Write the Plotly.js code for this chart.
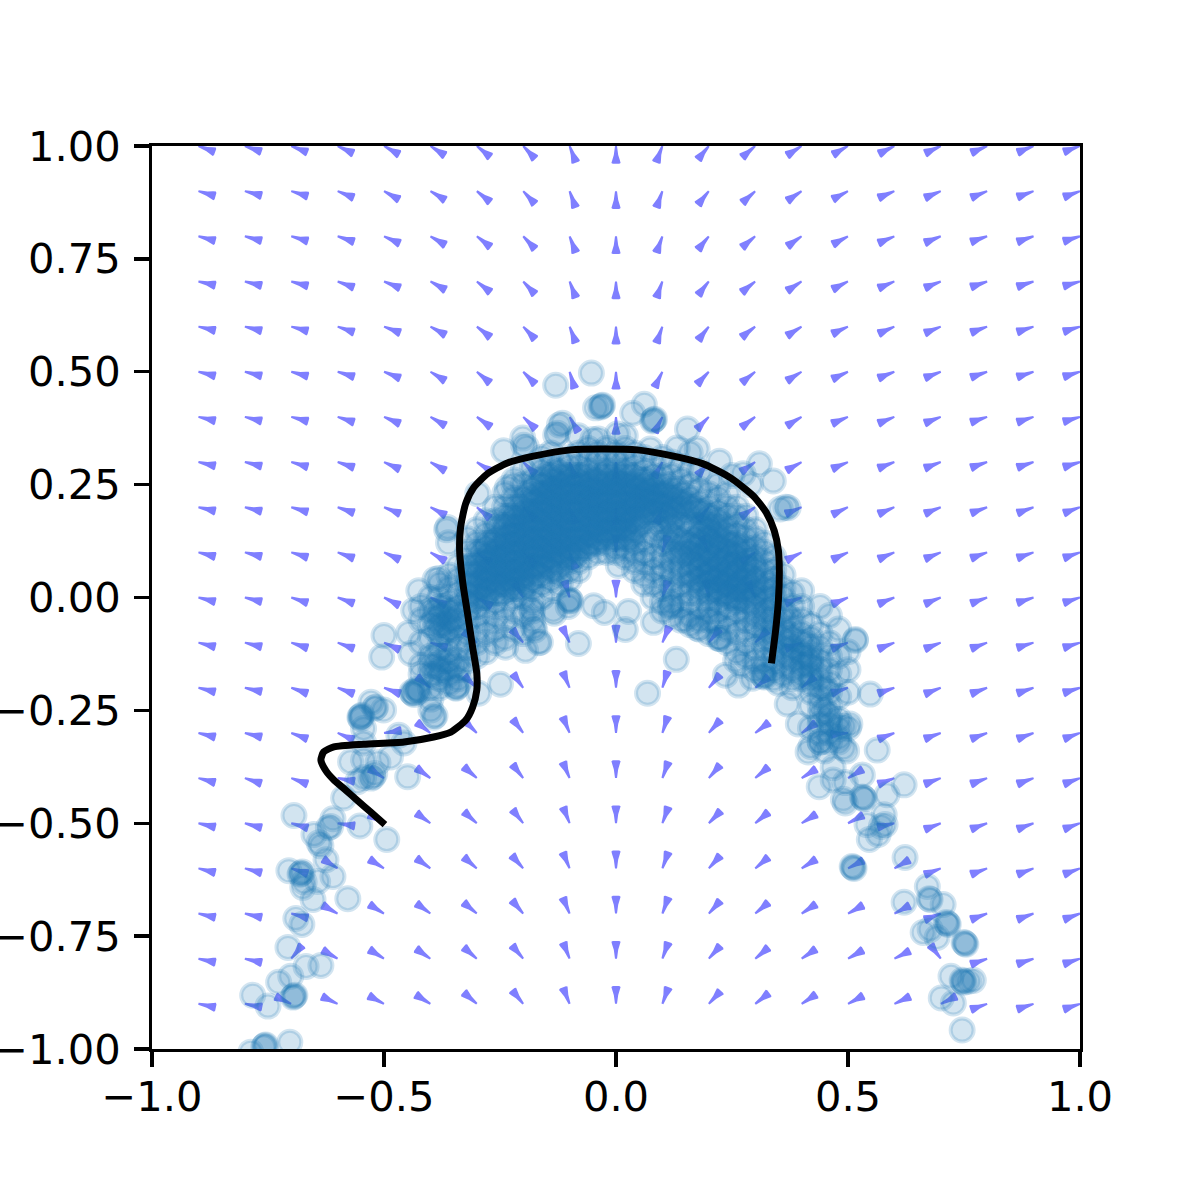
<!DOCTYPE html>
<html>
<head>
<meta charset="utf-8">
<script src="https://cdn.plot.ly/plotly-3.0.1.min.js"></script>
<style>html,body{margin:0;padding:0;background:#fff;overflow:hidden}</style>
</head>
<body>
<div id="chart" style="width:1200px;height:1200px"></div>
<script>
// quiver grid, direction of each arrow in degrees (tail at the grid point)
const gridX = [-.9,-.8,-.7,-.6,-.5,-.4,-.3,-.2,-.1,0,.1,.2,.3,.4,.5,.6,.7,.8,.9,1];
const gridY = [1,.9,.8,.7,.6,.5,.4,.3,.2,.1,0,-.1,-.2,-.3,-.4,-.5,-.6,-.7,-.8,-.9];
const arrowAngles = [
  [-20,-19,-21,-25,-29,-33,-39,-47,-69,-90,-111,-129,-139,-147,-150,-153,-155,-157,-158,-160],
  [-16,-15,-17,-22,-29,-31,-39,-47,-70,-90,-110,-129,-138,-146,-152,-157,-157,-158,-160,-160],
  [-15,-15,-16,-18,-24,-30,-38,-47,-69,-90,-110,-129,-140,-145,-152,-157,-158,-161,-161,-163],
  [-13,-14,-15,-20,-22,-29,-38,-47,-69,-90,-110,-128,-141,-147,-153,-157,-158,-161,-162,-164],
  [-13,-14,-15,-19,-21,-29,-38,-47,-69,-90,-110,-128,-142,-148,-155,-156,-158,-160,-162,-163],
  [-14,-14,-15,-17,-22,-31,-40,-46,-73,-90,-117,-133,-141,-148,-155,-158,-159,-161,-162,-163],
  [-13,-14,-15,-18,-23,-30,-36,-44,-60,-90,-117,-134,-143,-149,-157,-158,-159,-162,-162,-164],
  [-13,-14,-16,-18,-24,-30,-33,-45,-70,-90,-119,-130,-145,-151,-157,-159,-159,-161,-162,-163],
  [-13,-14,-16,-19,-22,-28,-40,-45,-70,-90,-110,-130,-146,-157,-155,-157,-158,-160,-160,-160],
  [-14,-14,-17,-20,-25,-30,-35,-45,-70,90,73,115,-146,-153,-155,-157,-158,-160,-161,-161],
  [-14,-14,-18,-20,-27,-27,-30,120,107,90,72,100,115,-160,-157,-158,-158,-160,-162,-162],
  [-14,-14,-18,-20,-24,-17,140,130,115,90,67,52,45,-160,-160,-159,-159,-160,-163,-163],
  [-14,-13,-19,-20,-20,141,137,126,113,90,73,49,39,40,-162,-161,-159,-160,-162,-163],
  [-14,-14,-20,-23,8,142,135,127,113,90,72,48,37,35,-175,-159,-160,-160,-160,-160],
  [-15,-18,-20,-11,147,144,139,128,113,90,70,49,40,32,31,-159,-160,-160,-160,-160],
  [-13,-15,-16,-9,150,144,138,128,112,90,70,46,40,32,28,-167,-159,-160,-160,-160],
  [-14,-15,-18,147,148,144,139,131,113,90,70,48,40,32,28,30,-159,-160,-160,-160],
  [-13,-13,-15,151,148,144,140,130,113,90,70,48,40,33,29,28,-159,-160,-160,-160],
  [-12,-13,51,150,148,145,139,130,112,90,70,48,40,34,30,27,127,-161,-162,-162],
  [-12,-11,155,155,152,148,139,129,112,90,70,47,38,33,28,25,26,-161,-162,-162]
];

// black trajectory
const pathX = [-.498,-.529,-.557,-.582,-.608,-.625,-.636,-.630,-.608,-.544,-.457,-.393,-.356,-.324,-.309,-.300,-.300,-.309,-.320,-.330,-.337,-.335,-.324,-.307,-.277,-.234,-.178,-.098,-.033,.046,.124,.188,.247,.296,.324,.341,.350,.352,.350,.344,.335];
const pathY = [-.503,-.475,-.450,-.427,-.404,-.384,-.360,-.342,-.331,-.325,-.320,-.309,-.298,-.272,-.243,-.205,-.168,-.110,-.035,.031,.104,.155,.208,.243,.274,.298,.313,.327,.329,.327,.313,.296,.265,.225,.188,.148,.104,.060,-.007,-.073,-.146];

// samples above the arch and inside it
const crownPoints = [[-.13,.47],[-.053,.497],[-.044,.42],[-.031,.424],[-.033,.422],[-.029,.426],[.036,.408],[.061,.428],[.081,.393],[.079,.391],[.083,.395],[.154,.373],[-.242,.325],[-.201,.353],[-.193,.333],[-.199,.337],[-.126,.364],[-.122,.382],[-.115,.386],[-.13,.36],[-.081,.358],[-.038,.351],[-.05,.35],[.003,.362],[.02,.358],[.074,.329],[.132,.331],[.175,.329],[.16,.32],[.223,.302],[.274,.274],[.309,.296],[.339,.258],[.25,.27],[.354,.196],[.371,.199],[.366,.2],[.29,.25],
  [-.081,-.102],[-.048,-.018],[-.025,-.033],[.027,-.031],[.081,-.055],[.02,-.071],[.13,-.137],[.068,-.212],[-.249,-.192],[.117,-.02],[.118,-.018],[-.1,-.005],[-.098,-.007],[-.103,-.02],[.005,.071],[-.195,-.117],[-.238,-.11],[-.167,-.1],[-.178,-.066],[-.184,-.024],[-.135,-.028],[.15,-.05],[.175,-.068],[.223,-.09],[.2,-.02],[.21,-.05],[-.163,-.099],[-.175,-.072],[-.18,-.03],[-.133,-.035],[-.102,-.008]];

const leftArmPoints = [[-.694,-.483],[-.61,-.49],[-.615,-.507],[-.62,-.51],[-.552,-.506],[-.494,-.536],[-.587,-.444],[-.651,-.525],[-.64,-.543],[-.636,-.55],[-.625,-.581],[-.705,-.605],[-.679,-.611],[-.676,-.608],[-.681,-.613],[-.61,-.618],[-.643,-.629],[-.675,-.642],[-.672,-.63],[-.653,-.669],[-.578,-.667],[-.69,-.711],[-.677,-.724],[-.707,-.775],[-.668,-.817],[-.636,-.815],[-.727,-.852],[-.701,-.839],[-.694,-.883],[-.692,-.881],[-.696,-.885],[-.783,-.881],[-.75,-.905],[-.703,-.985],[-.757,-.993],[-.755,-.991],[-.759,-.995],[-.787,-1.007],
  [-.55,-.263],[-.552,-.265],[-.548,-.261],[-.55,-.268],[-.518,-.243],[-.52,-.245],[-.528,-.232],[-.501,-.249],[-.544,-.29],[-.468,-.305],[-.457,-.322],[-.544,-.322],[-.572,-.364],[-.486,-.353],[-.544,-.36],[-.513,-.366],[-.524,-.397],[-.52,-.39],[-.528,-.4],[-.544,-.399],[-.557,-.408],[-.449,-.397],[-.505,-.132],[-.5,-.084],[-.447,-.079],[-.442,-.124],[-.425,.015],[-.436,-.029],[-.382,.042],[-.39,.04],[-.363,.155],[-.365,.15],[-.361,.121],[-.298,.23],[-.427,-.205],[-.43,-.203],[-.425,-.208],[-.399,-.249],[-.393,-.265],[-.39,-.262],[-.345,-.201],[-.345,-.199],[-.342,-.196],[-.296,-.212],[-.438,-.212],[-.44,-.21],[-.435,-.215],[-.399,-.225],[-.234,.243],[-.22,.25]];

const rightArmPoints = [[.225,-.091],[.236,-.172],[.264,-.194],[.258,-.139],[.294,-.179],[.318,-.174],[.32,-.176],[.316,-.172],[.35,-.19],[.369,-.236],[.393,-.28],[.419,-.289],[.414,-.342],[.44,-.32],[.49,-.333],[.497,-.34],[.548,-.214],[.563,-.338],[.516,-.095],[.501,-.289],[.49,-.285],[.504,-.28],[.468,-.377],[.438,-.419],[.468,-.404],[.494,-.41],[.531,-.393],[.533,-.444],[.531,-.442],[.535,-.446],[.494,-.455],[.49,-.447],[.584,-.437],[.621,-.415],[.578,-.481],[.58,-.503],[.572,-.507],[.541,-.503],[.546,-.536],[.565,-.525],[.511,-.598],[.509,-.596],[.513,-.6],[.623,-.576],[.621,-.675],[.671,-.64],[.677,-.669],[.675,-.667],[.705,-.68],[.662,-.742],[.677,-.735],[.714,-.722],[.712,-.72],[.716,-.724],[.692,-.753],[.752,-.766],[.75,-.764],[.754,-.768],[.722,-.839],[.748,-.85],[.746,-.848],[.75,-.852],[.76,-.85],[.77,-.848],[.701,-.887],[.727,-.898],[.746,-.958],
  [.4,.015],[.44,-.02],[.46,-.04],[.48,-.07],[.516,-.093],[.5,-.12],[.5,-.16],[.5,-.21],[.3,-.16],[.34,-.18],[.38,-.2],[.42,-.19],[.27,-.15],[.48,-.32],[.45,-.34],[.42,-.33]];

// dense band of the arch, read column by column: [x, [y, y, ...]]
const bandColumns = [
  [-.42,[-.02,-.05,-.1,-.15,-.17]],
  [-.40,[0,-.03,-.06,-.09,-.13,-.15,-.17,-.2]],
  [-.38,[.03,0,-.02,-.04,-.06,-.08,-.11,-.14,-.16,-.18,-.2]],
  [-.36,[.05,.02,-.01,-.03,-.05,-.07,-.09,-.12,-.14,-.17,-.19]],
  [-.34,[.07,.04,.01,-.02,-.04,-.06,-.09,-.11,-.14,-.16,-.18]],
  [-.32,[.13,.1,.07,.05,.03,.01,-.01,-.03,-.05,-.08,-.11,-.14,-.16]],
  [-.30,[.15,.12,.1,.08,.07,.05,.03,.02,0,-.02,-.04,-.07,-.1,-.13]],
  [-.28,[.17,.14,.12,.11,.09,.08,.06,.05,.03,.01,0,-.02,-.05,-.08,-.12]],
  [-.26,[.2,.17,.15,.13,.12,.1,.09,.07,.06,.04,.03,.01,-.01,-.04,-.07,-.1]],
  [-.24,[.23,.2,.18,.16,.15,.13,.12,.1,.09,.07,.06,.04,.03,.01,-.02,-.05,-.09]],
  [-.22,[.26,.22,.2,.18,.17,.15,.14,.12,.11,.09,.08,.06,.05,.03,.02,0,-.03,-.07]],
  [-.20,[.28,.25,.22,.2,.19,.17,.16,.14,.13,.11,.1,.08,.07,.05,.04,.02,0,-.04,-.08]],
  [-.18,[.29,.26,.24,.22,.21,.19,.18,.16,.15,.13,.12,.1,.09,.07,.06,.04,.02,-.01,-.05]],
  [-.16,[.31,.28,.26,.25,.23,.22,.2,.19,.17,.16,.14,.13,.11,.1,.08,.07,.05,.03,0]],
  [-.14,[.32,.29,.27,.26,.24,.23,.21,.2,.18,.17,.15,.14,.12,.11,.09,.08,.06,.04,.02]],
  [-.12,[.3,.28,.27,.25,.24,.22,.21,.19,.18,.16,.15,.13,.12,.1,.09,.07,.05,.03]],
  [-.10,[.31,.29,.27,.26,.24,.23,.21,.2,.19,.17,.16,.14,.13,.11,.1,.08,.06,.04]],
  [-.08,[.32,.29,.27,.26,.25,.23,.22,.2,.19,.17,.16,.14,.13,.11,.1,.08,.06]],
  [-.06,[.33,.3,.28,.27,.25,.24,.22,.21,.2,.18,.17,.15,.14,.12,.11,.09]],
  [-.04,[.32,.3,.28,.26,.25,.23,.22,.21,.19,.18,.16,.15,.13,.12,.1]],
  [-.02,[.33,.3,.28,.27,.25,.24,.22,.21,.19,.18,.17,.15,.14,.12,.1]],
  [0,[.32,.3,.28,.26,.25,.23,.22,.2,.19,.18,.16,.15,.13,.11,.1]],
  [.02,[.33,.3,.28,.27,.25,.24,.22,.21,.19,.18,.16,.15,.13,.11,.09]],
  [.04,[.32,.29,.27,.25,.24,.22,.21,.2,.18,.17,.15,.14,.12,.1,.08,.06]],
  [.06,[.31,.28,.26,.25,.23,.22,.2,.19,.17,.13,.1,.08,.05,.03]],
  [.08,[.3,.27,.25,.24,.22,.21,.19,.18,.14,.09,.06,.03,0]],
  [.10,[.31,.27,.25,.23,.22,.2,.19,.17,.12,.09,.07,.05,.02,-.01,-.03]],
  [.12,[.3,.27,.24,.22,.21,.19,.17,.16,.14,.12,.1,.08,.06,.04,.02,-.01,-.04]],
  [.14,[.29,.26,.23,.21,.2,.16,.13,.11,.09,.07,.05,.03,.01,-.02,-.05]],
  [.16,[.28,.25,.22,.2,.16,.12,.1,.08,.06,.05,.03,.01,-.01,-.04,-.06]],
  [.18,[.28,.24,.21,.19,.16,.14,.12,.11,.09,.07,.06,.04,.02,.01,-.02,-.05,-.07]],
  [.20,[.26,.23,.2,.18,.16,.15,.13,.11,.1,.08,.06,.05,.03,.01,0,-.03,-.05,-.08]],
  [.22,[.25,.22,.19,.17,.15,.13,.11,.1,.08,.07,.05,.04,.02,.01,-.01,-.03,-.06,-.09]],
  [.24,[.23,.2,.18,.15,.14,.12,.1,.09,.07,.06,.04,.03,.01,0,-.02,-.04,-.07,-.1]],
  [.26,[.2,.18,.16,.14,.12,.11,.09,.08,.06,.05,.03,.02,0,-.01,-.03,-.05,-.08,-.12]],
  [.28,[.18,.15,.13,.11,.1,.08,.07,.05,.04,.02,.01,-.01,-.03,-.05,-.07,-.1,-.13]],
  [.30,[.15,.13,.11,.09,.07,.06,.04,.03,.01,0,-.02,-.04,-.06,-.08,-.11,-.14]],
  [.32,[.12,.1,.08,.06,.04,.02,.01,-.01,-.03,-.05,-.07,-.09,-.11,-.14,-.16]],
  [.34,[.09,.06,.04,.02,0,-.02,-.04,-.06,-.08,-.1,-.12,-.14,-.16]],
  [.36,[.05,.02,0,-.03,-.05,-.07,-.09,-.11,-.13,-.15,-.17]],
  [.38,[.01,-.02,-.05,-.07,-.09,-.11,-.12,-.14,-.16,-.18]],
  [.40,[-.02,-.05,-.08,-.1,-.12,-.13,-.15,-.17,-.18]],
  [.42,[-.06,-.09,-.11,-.13,-.14,-.15,-.17,-.18,-.21,-.24]],
  [.44,[-.08,-.11,-.14,-.16,-.18,-.2,-.22,-.24,-.26,-.28,-.3,-.32]],
  [.46,[-.1,-.13,-.16,-.19,-.21,-.24,-.26,-.27,-.28,-.3,-.32]],
  [.48,[-.13,-.17,-.22,-.27,-.29,-.31]]
];

// darkest part of the band, second reading between the columns above
const coreColumns = [
  [-.39,[-.03,-.05,-.07,-.13,-.15,-.17]],
  [-.37,[-.02,-.04,-.06,-.08,-.14,-.16]],
  [-.35,[-.03,-.05,-.07,-.15]],
  [-.31,[.07,.05,.03,.01,-.01]],
  [-.29,[.1,.08,.06,.04,.02,0]],
  [-.27,[.12,.1,.08,.06,.04,.02]],
  [-.25,[.16,.13,.11,.09,.07,.05,.03,.01]],
  [-.23,[.18,.16,.14,.12,.1,.08,.06,.04,.02]],
  [-.21,[.2,.18,.16,.14,.12,.1,.08,.06,.04,.02]],
  [-.19,[.23,.21,.19,.17,.15,.13,.11,.09,.07,.05,.03]],
  [-.17,[.25,.23,.21,.19,.17,.15,.13,.11,.09,.07,.05]],
  [-.15,[.27,.25,.23,.21,.19,.17,.15,.13,.11,.09,.07]],
  [-.13,[.28,.26,.24,.22,.2,.18,.16,.14,.12,.1,.08,.06]],
  [-.11,[.27,.25,.23,.21,.19,.17,.15,.13,.11,.09]],
  [-.09,[.27,.25,.23,.21,.19,.17,.15,.13,.11,.09]],
  [-.07,[.27,.25,.23,.21,.19,.17,.15,.13,.11]],
  [-.05,[.26,.24,.22,.2,.18,.16,.14,.12]],
  [-.03,[.27,.25,.23,.21,.19,.17,.15,.13]],
  [-.01,[.27,.25,.23,.21,.19,.17,.15,.13]],
  [.01,[.27,.25,.23,.21,.19,.17,.15,.13]],
  [.03,[.27,.25,.23,.21,.19,.17,.15,.13]],
  [.05,[.26,.24,.22,.2,.18,.16]],
  [.07,[.26,.24,.23,.21,.19,.12]],
  [.09,[.25,.23,.21,.19,.17,.15]],
  [.11,[.25,.23,.2,.18,.15,.13]],
  [.13,[.24,.22,.2,.18,.13,.1]],
  [.15,[.23,.21,.19,.17,.12,.1]],
  [.17,[.2,.19,.16,.13,.11,.09,.07,.04]],
  [.19,[.19,.17,.15,.13,.1,.08,.05,.03]],
  [.21,[.18,.16,.14,.12,.09,.06,.04,.02]],
  [.23,[.16,.13,.11,.08,.05,.03,.01]],
  [.25,[.12,.1,.07,.05,.02,0]],
  [.27,[.1,.07,.04,.02,0]],
  [.29,[.08,.05,.02,-.01]],
  [.33,[.03,0,-.03,-.05,-.09]],
  [.37,[-.04,-.08,-.1,-.13]],
  [.41,[-.1,-.13,-.15]],
  [.45,[-.2,-.25]]
];

const xTicks = [-1,-.5,0,.5,1];
const yTicks = [-1,-.75,-.5,-.25,0,.25,.5,.75,1];

// plot area in px, used to turn the wedge outline into data units
const plotW = 928, plotH = 903;
const wedgeLen = 17.8;

function wedgeTraces() {
  // outline along the arrow: [fraction of length, half width in px]
  const outline = [[0,1],[.5,2.2],[.8,3.9],[.95,4.6],[1,3.2],[1,-3.2],[.95,-4.6],[.8,-3.9],[.5,-2.2],[0,-1]];
  const xs = [], ys = [];
  gridY.forEach((gy, r) => {
    gridX.forEach((gx, c) => {
      const a = arrowAngles[r][c] * Math.PI / 180;
      outline.forEach(([f, w]) => {
        const dx = f * wedgeLen * Math.cos(a) - w * Math.sin(a);
        const dy = f * wedgeLen * Math.sin(a) + w * Math.cos(a);
        xs.push(gx + dx * 2 / plotW);
        ys.push(gy + dy * 2 / plotH);
      });
      xs.push(null);
      ys.push(null);
    });
  });
  return {
    type: "scatter", mode: "lines", x: xs, y: ys, fill: "toself",
    fillcolor: "rgba(0,0,255,0.5)", line: { width: 0 }, hoverinfo: "skip",
  };
}

const samples = [...crownPoints, ...leftArmPoints, ...rightArmPoints];
[...bandColumns, ...coreColumns].forEach(([x, col]) => col.forEach((y) => samples.push([x, y])));

const traces = [
  wedgeTraces(),
  {
    type: "scatter", mode: "markers",
    x: samples.map((p) => p[0]),
    y: samples.map((p) => p[1]),
    marker: {
      size: 23, color: "rgba(31,119,180,0.2)",
      line: { width: 4, color: "rgba(31,119,180,0.2)" },
    },
  },
  {
    type: "scatter", mode: "lines", x: pathX, y: pathY,
    line: { color: "#000", width: 7, shape: "spline", smoothing: .6 },
  },
];

const axisBase = {
  range: [-1, 1], tickmode: "array", showgrid: false, zeroline: false,
  showline: true, mirror: true, linecolor: "#000", linewidth: 3.3,
  ticks: "outside", ticklen: 14.6, tickwidth: 3.3, tickcolor: "#000",
  tickfont: { family: "DejaVu Sans", size: 41.67, color: "#000" },
};

const layout = {
  width: 1200, height: 1200, showlegend: false,
  margin: { l: 152, r: 120, t: 146, b: 151, pad: 0 },
  paper_bgcolor: "#fff", plot_bgcolor: "#fff",
  xaxis: { ...axisBase, tickvals: xTicks, tickformat: ".1f", ticklabelstandoff: -6 },
  yaxis: { ...axisBase, tickvals: yTicks, tickformat: ".2f", ticklabelstandoff: 5 },
};

Plotly.newPlot("chart", traces, layout, { staticPlot: true });
</script>
</body>
</html>
